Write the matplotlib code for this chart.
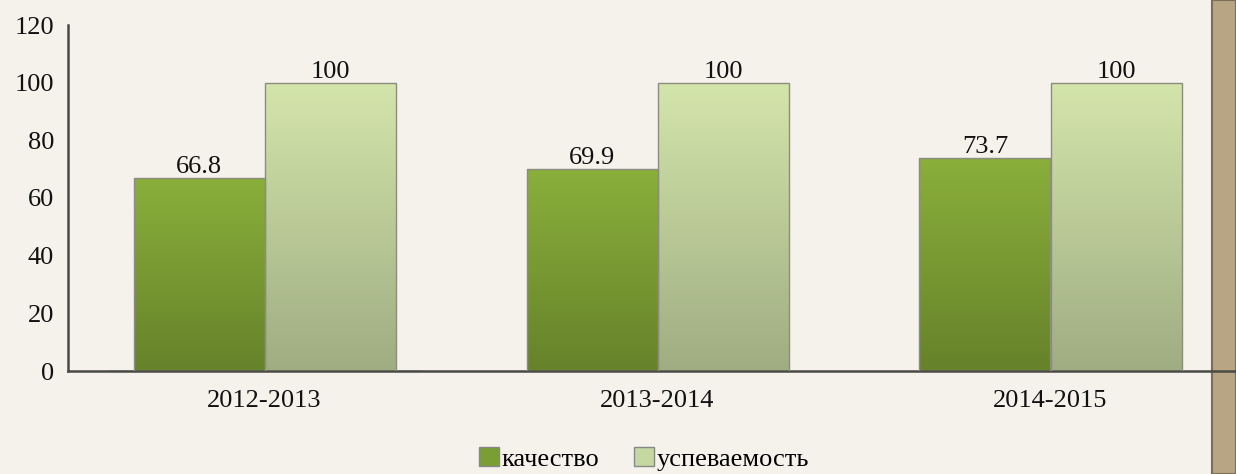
import numpy as np
import matplotlib.pyplot as plt
from matplotlib.colors import LinearSegmentedColormap
from matplotlib.patches import Rectangle

years = ['2012-2013', '2013-2014', '2014-2015']
quality = [66.8, 69.9, 73.7]
progress = [100, 100, 100]
labels = ['качество', 'успеваемость']

plt.rcParams['font.family'] = ['Liberation Serif', 'DejaVu Serif']

W, H = 1236, 474
fig = plt.figure(figsize=(W / 100, H / 100), dpi=100)
fig.patch.set_facecolor('#f5f1eb')
# paper edge on the right
fig.patches.append(Rectangle((1212 / W, 0), 1 - 1212 / W, 1, transform=fig.transFigure,
                             facecolor='#b7a584', edgecolor='#7d6e55', lw=1.5, zorder=-1))

ax = fig.add_axes([68 / W, 103 / H, (W - 68) / W, 346 / H])
ax.set_facecolor('none')

x = np.arange(len(years))
bw = 1 / 3
grad_dark = LinearSegmentedColormap.from_list('d', ['#66822a', '#8aaf3b'])
grad_light = LinearSegmentedColormap.from_list('l', ['#9fad82', '#d4e5ab'])
grad = np.linspace(0, 1, 256).reshape(-1, 1)

for vals, off, cmap, lab, sw in [(quality, -bw / 2, grad_dark, labels[0], '#7a9e34'),
                                 (progress, bw / 2, grad_light, labels[1], '#c5d8a0')]:
    bars = ax.bar(x + off, vals, bw, color='none', edgecolor='#8c8c80', lw=1, zorder=3)
    for b, v in zip(bars, vals):
        x0, w, h = b.get_x(), b.get_width(), b.get_height()
        im = ax.imshow(grad, cmap=cmap, origin='lower', aspect='auto',
                       extent=(x0, x0 + w, 0, h), zorder=2)
        im.set_clip_path(b)
        ax.annotate(f'{v:g}', (x0 + w / 2, h), xytext=(0, 0), textcoords='offset points',
                    ha='center', va='bottom', fontsize=19, color='#111')
    ax.bar([0], [0], color=sw, edgecolor='#888', label=lab)

ax.set_xlim(-0.5, -0.5 + (W - 68) / 393)
ax.set_ylim(0, 120)
ax.set_yticks(range(0, 121, 20))
ax.set_xticks(x, years)
ax.tick_params(length=0, labelsize=19, colors='#111')
ax.tick_params(axis='y', pad=10)
ax.tick_params(axis='x', pad=14)
for s in ['top', 'right']:
    ax.spines[s].set_visible(False)
for s in ['left', 'bottom']:
    ax.spines[s].set_color('#4a4a44')
    ax.spines[s].set_linewidth(1.8)

fig.legend(loc='center', bbox_to_anchor=(644 / W, 1 - 459 / H), ncol=2, frameon=False,
           fontsize=19, handlelength=0.75, handleheight=0.75, handletextpad=0.1,
           columnspacing=1.3)

fig.savefig('out.png', dpi=100, facecolor=fig.get_facecolor())
